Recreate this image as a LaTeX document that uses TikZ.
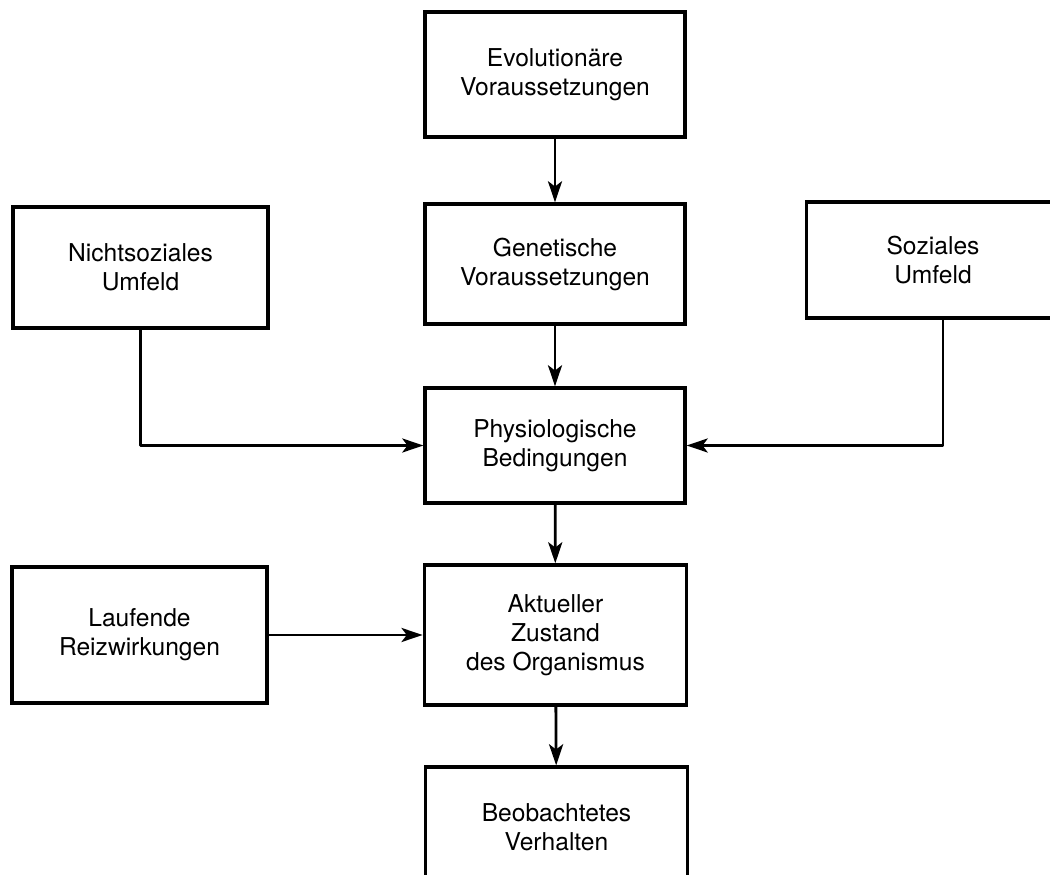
\documentclass[tikz,border=0pt]{standalone}
\usepackage{fontspec}
\setmainfont{TeX Gyre Heros}
\usetikzlibrary{arrows.meta,positioning}

\begin{document}
\begin{tikzpicture}[
    kasten/.style = {draw=black, line width=1.9pt, align=center, inner sep=0pt,
                     font=\fontsize{14}{16.5}\selectfont},
    pfeil/.style  = {line width=1.6pt, line join=round,
                     -{Stealth[length=12pt,width=8pt,inset=3pt]}}
]
    \useasboundingbox (0,0) rectangle (21,17.48);
    % mittlere Spalte
    \node[kasten, minimum width=5.2cm, minimum height=2.5cm] (evol) at (11.1,15.99) {Evolutionäre\\Voraussetzungen};
    \node[kasten, minimum width=5.2cm, minimum height=2.4cm] (gen) at (11.1,12.2) {Genetische\\Voraussetzungen};
    \node[kasten, minimum width=5.2cm, minimum height=2.3cm] (phys) at (11.1,8.57) {Physiologische\\Bedingungen};
    \node[kasten, minimum width=5.25cm, minimum height=2.8cm] (akt) at (11.11,4.78) {Aktueller\\Zustand\\des Organismus};
    \node[kasten, minimum width=5.25cm, minimum height=2.4cm] (verh) at (11.13,0.94) {Beobachtetes\\Verhalten};
    % Umfeld
    \node[kasten, minimum width=5.1cm, minimum height=2.42cm] (nichtsoz) at (2.81,12.13) {Nichtsoziales\\Umfeld};
    \node[kasten, minimum width=5.06cm, minimum height=2.32cm] (soz) at (18.66,12.28) {Soziales\\Umfeld};
    \node[kasten, minimum width=5.1cm, minimum height=2.72cm] (reiz) at (2.79,4.78) {Laufende\\Reizwirkungen};
    % Pfeile
    \draw[pfeil] (evol) -- (gen);
    \draw[pfeil] (gen) -- (phys);
    \draw[pfeil] (phys) -- (akt);
    \draw[pfeil] (akt) -- (verh);
    \draw[pfeil] (nichtsoz.south) |- (phys.west);
    \draw[pfeil] (soz.south -| 18.86,0) |- (phys.east);
    \draw[pfeil] (reiz) -- (akt);
\end{tikzpicture}
\end{document}
